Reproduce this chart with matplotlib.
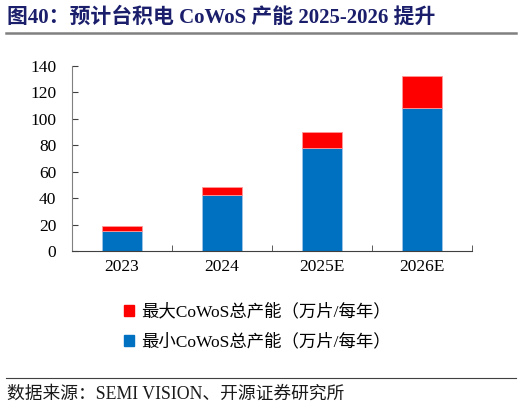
import matplotlib
matplotlib.use('Agg')
import matplotlib.pyplot as plt
from matplotlib.lines import Line2D
from matplotlib.patches import Patch

plt.rcParams['font.family'] = ['Liberation Serif', 'Noto Sans CJK SC']

years = ['2023', '2024', '2025E', '2026E']
min_capacity = [15, 42, 78, 108]
max_capacity = [19, 48, 90, 132]
extra = [mx - mn for mx, mn in zip(max_capacity, min_capacity)]

blue = '#0070C0'
red = '#FF0000'

fig = plt.figure(figsize=(5.22, 4.08), dpi=100)
ax = fig.add_axes([71.7 / 522, 1 - 251 / 408, 400 / 522, 185.3 / 408])

x = list(range(len(years)))
ax.bar(x, min_capacity, width=0.4, color=blue, edgecolor='#9DC3E6', linewidth=0.6)
ax.bar(x, extra, bottom=min_capacity, width=0.4, color=red, edgecolor='#FF9999', linewidth=0.6)

ax.set_xlim(-0.5, 3.5)
ax.set_ylim(0, 140)
ax.set_yticks(range(0, 141, 20))
ax.set_xticks(x)
ax.set_xticklabels(years)
ax.tick_params(axis='x', length=0, labelsize=12.5, pad=6)
ax.tick_params(axis='y', direction='in', length=4, labelsize=12.5, pad=11, color='#404040')
# boundary ticks between categories
ax.set_xticks([0.5, 1.5, 2.5, 3.5], minor=True)
ax.tick_params(axis='x', which='minor', direction='in', length=4, color='#404040')
for side in ['top', 'right']:
    ax.spines[side].set_visible(False)
ax.spines['left'].set_color('#808080')
ax.spines['bottom'].set_color('#404040')

fig.text(7 / 522, 1 - 17 / 408, '图40：预计台积电 CoWoS 产能 2025-2026 提升',
         fontsize=15, fontweight='bold', color='#1B1F6B', va='center', ha='left')
fig.add_artist(Line2D([6 / 522, 516 / 522], [1 - 33 / 408, 1 - 33 / 408], color='#808080', linewidth=1.8))
fig.add_artist(Line2D([6 / 522, 516 / 522], [1 - 378 / 408, 1 - 378 / 408], color='#404040', linewidth=0.8))
fig.text(7 / 522, 1 - 394 / 408, '数据来源：SEMI VISION、开源证券研究所',
         fontsize=12.8, color='#1a1a1a', va='center', ha='left')

handles = [Patch(color=red), Patch(color=blue)]
labels = ['最大CoWoS总产能（万片/每年）', '最小CoWoS总产能（万片/每年）']
fig.legend(handles, labels, loc='center left', bbox_to_anchor=(108 / 522, 1 - 327 / 408),
           frameon=False, fontsize=12.5, handlelength=0.6, handleheight=0.6,
           handletextpad=0.4, labelspacing=0.75)

fig.savefig('out.png', dpi=100)
